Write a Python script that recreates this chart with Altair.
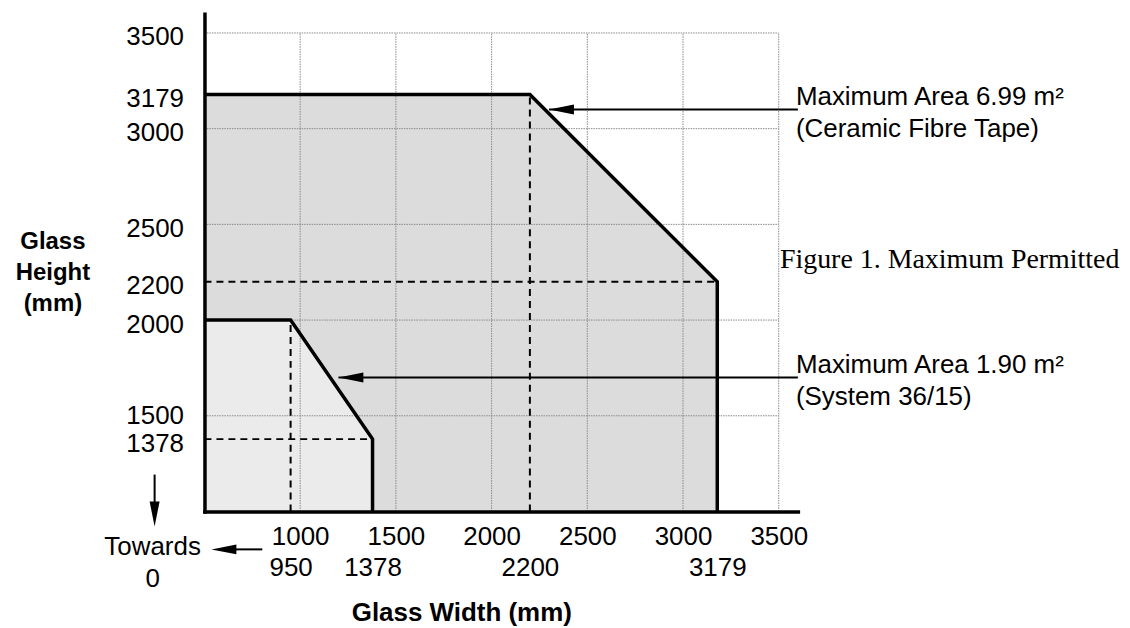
import altair as alt
import pandas as pd

# ---------------- data ----------------
# outline of the large permitted region (Ceramic Fibre Tape)
big_x = [500, 2200, 3179, 3179]
big_y = [3179, 3179, 2200, 1000]
# outline of the small permitted region (System 36/15)
small_x = [500, 950, 1378, 1378]
small_y = [2000, 2000, 1378, 1000]

# dashed reference lines
dash_x = [950, 500, 2200, 500]
dash_x2 = [950, 1378, 2200, 3179]
dash_y = [1000, 1378, 1000, 2200]
dash_y2 = [2000, 1378, 3179, 2200]

# grid
grid_x = [1000, 1500, 2000, 2500, 3000, 3500]
grid_y = [1500, 2000, 2500, 3000, 3500]
grid_lo_x, grid_hi_x = 500, 3500
grid_lo_y, grid_hi_y = 1000, 3500

# tick labels
x_ticks_main = [1000, 1500, 2000, 2500, 3000, 3500]
x_ticks_key = [950, 1378, 2200, 3179]
y_ticks = [1378, 1500, 2000, 2200, 2500, 3000, 3179, 3500]

# annotations
note_y = [3100, 1700]
note_tip_x = [2300, 1200]
note_end_x = [3600, 3600]
note_text = ["Maximum Area 6.99 m²\n(Ceramic Fibre Tape)",
             "Maximum Area 1.90 m²\n(System 36/15)"]
caption = "Figure 1. Maximum Permitted"

# ---------------- chart ----------------
SANS = "Liberation Sans"
xs = alt.Scale(domain=[500, 3600], nice=False, zero=False)
ys = alt.Scale(domain=[1000, 3600], nice=False, zero=False)

x_axis_main = alt.Axis(
    values=x_ticks_main, format="d", grid=False, ticks=False, tickSize=0,
    domain=True, domainColor="black", domainWidth=3.5, domainCap="square",
    labelFont=SANS, labelFontSize=26, labelColor="black", labelPadding=12,
    labelFlush=False, labelOverlap=False, orient="bottom",
    title="Glass Width (mm)", titleFont=SANS, titleFontSize=26,
    titleFontWeight="bold", titleColor="black", titleX=257.5, titleY=109,
    titleAlign="center", titleBaseline="alphabetic", zindex=2)

x_axis_key = alt.Axis(
    values=x_ticks_key, format="d", orient="bottom", domain=False, grid=False,
    ticks=False, tickSize=0, labelFont=SANS, labelFontSize=26,
    labelColor="black", labelPadding=43, labelFlush=False, labelOverlap=False,
    title="", zindex=2)

y_axis = alt.Axis(
    values=y_ticks, format="d", grid=False, ticks=False, tickSize=0,
    domain=True, domainColor="black", domainWidth=3.5, domainCap="square",
    labelFont=SANS, labelFontSize=26, orient="left",
    labelColor="black", labelPadding=21,
    labelOffset={"condition": {"test": "datum.value == 1500", "value": 0},
                 "value": 4},
    labelBaseline="middle",
    labelOverlap=False, title=["Glass", "Height", "(mm)"], titleAngle=0,
    titleX=-152.5, titleY=235, titleAlign="center", titleBaseline="alphabetic",
    titleFont=SANS, titleFontSize=24, titleFontWeight="bold",
    titleColor="black", titleLineHeight=31, zindex=2)


def X(field, axis=None):
    if axis is None:
        return alt.X(field, type="quantitative", scale=xs, axis=None)
    return alt.X(field, type="quantitative", scale=xs, axis=axis)


def Y(field, axis=None):
    if axis is None:
        return alt.Y(field, type="quantitative", scale=ys, axis=None)
    return alt.Y(field, type="quantitative", scale=ys, axis=axis)


big_df = pd.DataFrame({"x": big_x, "y": big_y, "o": list(range(len(big_x))),
                       "base": [grid_lo_y] * len(big_x)})
small_df = pd.DataFrame({"x": small_x, "y": small_y, "o": list(range(len(small_x))),
                         "base": [grid_lo_y] * len(small_x)})

area_big = alt.Chart(big_df.iloc[:3]).mark_area(color="#dcdcdc", opacity=1).encode(
    x=X("x", x_axis_main), y=Y("y", y_axis), y2="base:Q")
area_small = alt.Chart(small_df.iloc[:3]).mark_area(color="#ebebeb", opacity=1).encode(
    x=X("x"), y=Y("y"), y2="base:Q")

gv_df = pd.DataFrame({"g": grid_x, "lo": [grid_lo_y] * len(grid_x),
                      "hi": [grid_hi_y] * len(grid_x)})
gh_df = pd.DataFrame({"g": grid_y, "lo": [grid_lo_x] * len(grid_y),
                      "hi": [grid_hi_x] * len(grid_y)})
gridv = alt.Chart(gv_df).mark_rule(
    color="#8a8a8a", strokeWidth=1, strokeDash=[1.5, 1]).encode(
    x=X("g"), y=Y("lo"), y2="hi:Q")
gridh = alt.Chart(gh_df).mark_rule(
    color="#8a8a8a", strokeWidth=1, strokeDash=[1.5, 1]).encode(
    y=Y("g"), x=X("lo"), x2="hi:Q")

dash_df = pd.DataFrame({"x": dash_x, "x2": dash_x2, "y": dash_y, "y2": dash_y2})
dashed = alt.Chart(dash_df).mark_rule(
    color="black", strokeWidth=2, strokeDash=[7, 5]).encode(
    x=X("x", x_axis_key), x2="x2:Q", y=Y("y"), y2="y2:Q")

outline_big = alt.Chart(big_df).mark_line(
    color="black", strokeWidth=3.5, strokeJoin="miter").encode(
    x=X("x"), y=Y("y"), order="o:Q")
outline_small = alt.Chart(small_df).mark_line(
    color="black", strokeWidth=3.5, strokeJoin="miter").encode(
    x=X("x"), y=Y("y"), order="o:Q")

notes_df = pd.DataFrame({"tip": note_tip_x, "end": note_end_x, "y": note_y,
                         "label": note_text})
arrow_lines = alt.Chart(notes_df).mark_rule(color="black", strokeWidth=2).encode(
    x=X("tip"), x2="end:Q", y=Y("y"))
arrow_heads = alt.Chart(notes_df).mark_point(
    shape="M0,0L2,-0.4L2,0.4Z", size=625, filled=True, fill="black",
    strokeWidth=0, opacity=1).encode(x=X("tip"), y=Y("y"))
note_labels = alt.Chart(notes_df).mark_text(
    font=SANS, fontSize=26, color="black", align="left", baseline="alphabetic",
    lineBreak="\n", lineHeight=33, dx=-2, dy=-5).encode(
    x=X("end"), y=Y("y"), text="label:N")

one = pd.DataFrame({"a": [0]})
caption_text = alt.Chart(one).mark_text(
    font="Liberation Serif", fontSize=28, color="black", align="left",
    baseline="alphabetic", text=caption).encode(
    x=alt.value(577), y=alt.value(255))
towards_text = alt.Chart(one).mark_text(
    font=SANS, fontSize=26, color="black", align="center", baseline="middle",
    lineBreak="\n", lineHeight=32, text="Towards\n0").encode(
    x=alt.value(-52), y=alt.value(535))
down_line = alt.Chart(one).mark_rule(color="black", strokeWidth=2).encode(
    x=alt.value(-50), y=alt.value(462), y2=alt.value(494))
down_head = alt.Chart(one).mark_point(
    shape="M0,0L-0.4,-2L0.4,-2Z", size=625, filled=True, fill="black",
    strokeWidth=0, opacity=1).encode(x=alt.value(-50), y=alt.value(514))
left_line = alt.Chart(one).mark_rule(color="black", strokeWidth=2).encode(
    x=alt.value(58), x2=alt.value(28), y=alt.value(537))
left_head = alt.Chart(one).mark_point(
    shape="M0,0L2,-0.4L2,0.4Z", size=625, filled=True, fill="black",
    strokeWidth=0, opacity=1).encode(x=alt.value(7), y=alt.value(537))

chart = alt.layer(
    area_big, area_small, gridv, gridh, dashed, outline_big, outline_small,
    arrow_lines, arrow_heads, note_labels, caption_text, towards_text,
    down_line, down_head, left_line, left_head
).resolve_axis(x="independent", y="independent").properties(
    width=595, height=499,
    autosize=alt.AutoSizeParams(type="none"),
    padding={"left": 197, "top": 5, "right": 325, "bottom": 116},
    background="white",
).configure_view(stroke=None)

chart.save("out.html", embed_options={"renderer": "svg", "actions": False})
